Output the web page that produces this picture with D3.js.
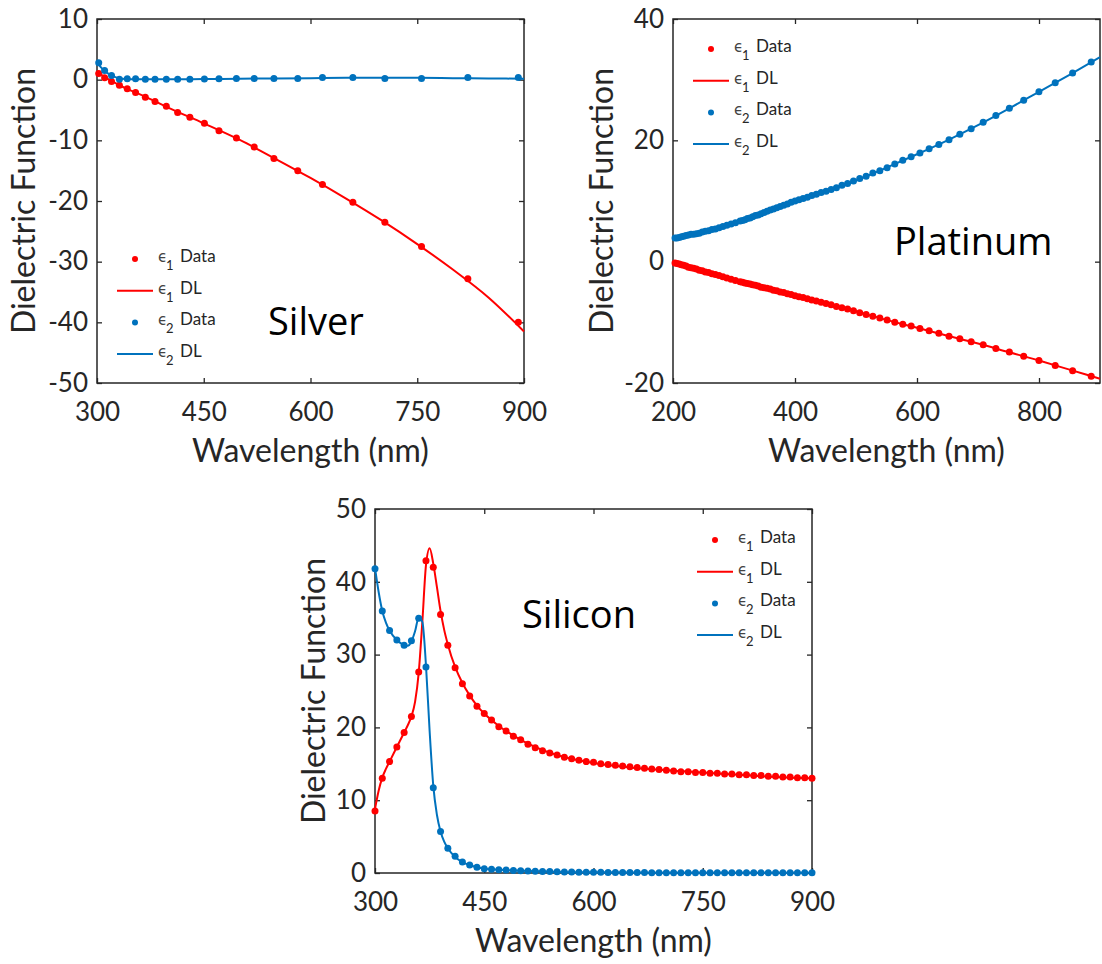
<!DOCTYPE html>
<html>
<head>
<meta charset="utf-8">
<script src="https://cdn.jsdelivr.net/npm/d3@7"></script>
<style>
  body { margin: 0; background: #fff; }
  svg { display: block; }
</style>
</head>
<body>
<svg id="chart"></svg>
<script>
// ---------- Silver ----------
let agWl = [302.4, 310.7, 320.4, 331.5, 342.5, 354.2, 367.9, 381.5, 397.4, 413.3, 430.5, 450.9, 471.4, 495.9, 520.9, 548.6, 582.1, 616.8, 659.5, 704.5, 756.0, 821.1, 892.0]
let agE1 = [1.0, 0.3, -0.3, -0.9, -1.5, -2.1, -2.9, -3.6, -4.4, -5.4, -6.2, -7.2, -8.4, -9.6, -11.1, -13.0, -15.0, -17.3, -20.2, -23.5, -27.5, -32.8, -40.0]
let agE2 = [2.8, 1.5, 0.7, 0.05, 0.15, 0.15, 0.05, 0.05, 0.05, 0.05, 0.05, 0.1, 0.15, 0.2, 0.2, 0.2, 0.2, 0.35, 0.35, 0.2, 0.2, 0.35, 0.35]
let agFitWl = [300, 305, 310, 320, 330, 340, 350, 375, 400, 450, 500, 550, 600, 650, 700, 750, 800, 850, 900]
let agFitE1 = [1.3, 0.9, 0.5, -0.2, -0.8, -1.4, -1.9, -3.2, -4.6, -7.2, -9.9, -13.0, -16.2, -19.6, -23.2, -27.1, -31.3, -35.9, -41.5]
let agFitE2 = [2.9, 2.1, 1.5, 0.7, 0.25, 0.1, 0.08, 0.05, 0.05, 0.1, 0.15, 0.2, 0.25, 0.3, 0.3, 0.3, 0.25, 0.2, 0.15]
let agXTicks = [300, 450, 600, 750, 900]
let agYTicks = [-50, -40, -30, -20, -10, 0, 10]

// ---------- Platinum ----------
let ptWl = [203.3, 206.6, 210.1, 213.8, 217.5, 221.4, 225.4, 229.6, 233.9, 238.4, 243.1, 248.0,
  253.0, 258.3, 263.8, 269.5, 275.5, 281.8, 288.3, 295.2, 302.4,
  310.0, 313.9, 317.9, 322.0, 326.3, 330.6, 335.1, 339.7, 344.4, 349.3,
  354.2, 359.4, 364.7, 370.1, 375.7, 381.5, 387.5, 393.6, 400.0,
  406.5, 413.3, 420.3, 427.5, 435.0, 442.8, 450.9,
  459.2, 467.9, 476.9, 486.2, 495.9, 506.1,
  516.6, 527.6, 539.1, 551.0,
  563.6, 576.7, 590.4, 604.8, 619.9,
  635.8, 652.5, 670.2, 688.8, 708.5,
  729.3, 751.4, 774.9, 799.9, 826.6, 855.1, 885.6]
let ptE1 = [-0.2, -0.3, -0.4, -0.5, -0.6, -0.7, -0.9, -1.0, -1.1, -1.2, -1.4, -1.5,
  -1.7, -1.8, -2.0, -2.1, -2.3, -2.5, -2.7, -2.9, -3.1,
  -3.3, -3.4, -3.5, -3.6, -3.7, -3.8, -3.9, -4.0, -4.2, -4.3,
  -4.4, -4.5, -4.7, -4.8, -5.0, -5.1, -5.3, -5.4, -5.6,
  -5.8, -5.9, -6.1, -6.3, -6.5, -6.7, -6.9,
  -7.1, -7.4, -7.6, -7.8, -8.1, -8.4,
  -8.7, -9.0, -9.3, -9.6,
  -10.0, -10.3, -10.6, -11.0, -11.4,
  -11.8, -12.3, -12.7, -13.2, -13.7,
  -14.3, -14.9, -15.6, -16.3, -17.1, -18.0, -18.9]
let ptE2 = [3.9, 3.9, 4.0, 4.1, 4.2, 4.3, 4.4, 4.5, 4.5, 4.6, 4.7, 4.9,
  5.0, 5.1, 5.3, 5.4, 5.6, 5.8, 6.0, 6.2, 6.4,
  6.7, 6.8, 6.9, 7.1, 7.2, 7.4, 7.6, 7.7, 7.9, 8.1,
  8.3, 8.5, 8.7, 8.9, 9.1, 9.3, 9.5, 9.8, 10.0,
  10.2, 10.4, 10.6, 10.9, 11.1, 11.4, 11.6,
  11.9, 12.2, 12.6, 12.9, 13.3, 13.7,
  14.1, 14.6, 15.0, 15.5,
  16.1, 16.7, 17.3, 17.9, 18.6,
  19.3, 20.1, 21.0, 21.9, 23.0,
  24.1, 25.3, 26.6, 28.0, 29.5, 31.1, 32.9]
let ptFitWl = [200, 250, 300, 350, 400, 450, 500, 550, 600, 650, 700, 750, 800, 850, 900]
let ptFitE1 = [-0.1, -1.6, -3.0, -4.3, -5.6, -6.9, -8.2, -9.6, -10.9, -12.2, -13.5, -14.9, -16.3, -17.8, -19.3]
let ptFitE2 = [3.8, 4.9, 6.3, 8.1, 10.0, 11.6, 13.4, 15.5, 17.7, 20.0, 22.5, 25.2, 28.0, 30.8, 33.7]
let ptXTicks = [200, 400, 600, 800]
let ptYTicks = [-20, 0, 20, 40]

// ---------- Silicon ----------
let siWl = [300, 310, 320, 330, 340, 350, 360, 370, 380, 390, 400, 410, 420, 430, 440, 450, 460, 470, 480, 490,
  500, 510, 520, 530, 540, 550, 560, 570, 580, 590, 600, 610, 620, 630, 640, 650, 660, 670, 680, 690,
  700, 710, 720, 730, 740, 750, 760, 770, 780, 790, 800, 810, 820, 830, 840, 850, 860, 870, 880, 890, 900]
let siE1 = [8.5, 13.0, 15.3, 17.3, 19.3, 21.5, 27.6, 42.9, 42.0, 35.5, 31.3, 28.2, 26.0, 24.3, 22.9, 21.9, 21.0, 20.1, 19.5, 18.8,
  18.3, 17.7, 17.2, 16.8, 16.5, 16.2, 15.9, 15.7, 15.5, 15.3, 15.2, 15.0, 14.9, 14.8, 14.7, 14.6, 14.5, 14.4, 14.3, 14.2,
  14.1, 14.0, 13.9, 13.9, 13.8, 13.8, 13.7, 13.7, 13.6, 13.6, 13.5, 13.5, 13.4, 13.4, 13.3, 13.3, 13.2, 13.2, 13.1, 13.1, 13.0]
let siE2 = [41.8, 36.0, 33.3, 32.0, 31.3, 31.9, 35.0, 28.3, 11.7, 5.7, 3.4, 2.3, 1.5, 1.1, 0.8, 0.6, 0.5, 0.45, 0.4, 0.35,
  0.3, 0.28, 0.25, 0.22, 0.2, 0.18, 0.15, 0.13, 0.12, 0.1, 0.1, 0.09, 0.08, 0.08, 0.07, 0.07, 0.06, 0.06, 0.05, 0.05,
  0.05, 0.04, 0.04, 0.04, 0.04, 0.03, 0.03, 0.03, 0.03, 0.03, 0.03, 0.02, 0.02, 0.02, 0.02, 0.02, 0.02, 0.02, 0.02, 0.02, 0.02]
let siFitWl = [300, 305, 310, 315, 320, 330, 340, 345, 350, 355, 360, 365, 370, 375, 380, 385, 390, 395, 400, 410,
  420, 430, 440, 450, 470, 500, 550, 600, 650, 700, 750, 800, 850, 900]
let siFitE1 = [8.8, 11.3, 13.1, 14.3, 15.3, 17.3, 19.3, 20.3, 21.5, 23.5, 27.5, 34.5, 42.3, 44.6, 42.5, 39.3, 36.0, 33.4, 31.4, 28.3,
  26.1, 24.4, 23.0, 21.9, 20.2, 18.3, 16.2, 15.1, 14.5, 14.1, 13.8, 13.5, 13.2, 13.0]
let siFitE2 = [41.9, 38.6, 36.0, 34.4, 33.3, 32.0, 31.3, 31.2, 31.8, 33.2, 35.1, 34.5, 28.5, 19.5, 12.0, 8.0, 5.7, 4.3, 3.4, 2.2,
  1.5, 1.1, 0.8, 0.6, 0.45, 0.3, 0.15, 0.1, 0.06, 0.04, 0.03, 0.02, 0.02, 0.02]
let siXTicks = [300, 450, 600, 750, 900]
let siYTicks = [0, 10, 20, 30, 40, 50]

let legendRows = [
  {sub: "1", text: "Data", kind: "dot", color: "red"},
  {sub: "1", text: "DL", kind: "line", color: "red"},
  {sub: "2", text: "Data", kind: "dot", color: "blue"},
  {sub: "2", text: "DL", kind: "line", color: "blue"}
]

let width = 1102
let height = 964
let colors = {red: "#ff0000", blue: "#0072bd"}
let ink = "#262626"
let tickFont = "Lato, 'Open Sans', sans-serif"

let svg = d3.select("#chart")
svg.attr("width", width)
svg.attr("height", height)

let panels = [
  {box: [97, 19, 524, 383], xDom: [300, 900], yDom: [-50, 10], xTicks: agXTicks, yTicks: agYTicks,
   wl: agWl, e1: agE1, e2: agE2, fitWl: agFitWl, fit1: agFitE1, fit2: agFitE2,
   yLab: 62, name: "Silver", nameX: 268, nameY: 335, legX: 135, legY: 259},
  {box: [673, 19, 1100, 383], xDom: [200, 900], yDom: [-20, 40], xTicks: ptXTicks, yTicks: ptYTicks,
   wl: ptWl, e1: ptE1, e2: ptE2, fitWl: ptFitWl, fit1: ptFitE1, fit2: ptFitE2,
   yLab: 60, name: "Platinum", nameX: 894, nameY: 255, legX: 711, legY: 49},
  {box: [375, 509, 812, 873], xDom: [300, 900], yDom: [0, 50], xTicks: siXTicks, yTicks: siYTicks,
   wl: siWl, e1: siE1, e2: siE2, fitWl: siFitWl, fit1: siFitE1, fit2: siFitE2,
   yLab: 50, name: "Silicon", nameX: 522, nameY: 628, legX: 715, legY: 540}
]

// plain hyphen for negatives, like MATLAB
let fmt = d => String(d)

let styleAxis = (g) => {
  g.select(".domain").remove()
  g.attr("font-size", 26).attr("font-family", tickFont).attr("color", ink)
  g.selectAll(".tick line").attr("stroke-width", 1.3)
}

let drawPanel = (p) => {
  let [x0, y0, x1, y1] = p.box
  let xScale = d3.scaleLinear().domain(p.xDom).range([x0, x1])
  let yScale = d3.scaleLinear().domain(p.yDom).range([y1, y0])
  let g = svg.append("g")

  // ticks point inward on all four sides
  g.append("g").attr("transform", "translate(0," + y1 + ")")
   .call(d3.axisBottom(xScale).tickValues(p.xTicks).tickSizeInner(-5).tickSizeOuter(0).tickPadding(20).tickFormat(fmt))
   .call(styleAxis)
  g.append("g").attr("transform", "translate(0," + y0 + ")")
   .call(d3.axisTop(xScale).tickValues(p.xTicks).tickSizeInner(-5).tickSizeOuter(0).tickFormat(() => ""))
   .call(styleAxis)
  g.append("g").attr("transform", "translate(" + x0 + ",0)")
   .call(d3.axisLeft(yScale).tickValues(p.yTicks).tickSizeInner(-5).tickSizeOuter(0).tickPadding(9).tickFormat(fmt))
   .call(styleAxis)
  g.append("g").attr("transform", "translate(" + x1 + ",0)")
   .call(d3.axisRight(yScale).tickValues(p.yTicks).tickSizeInner(-5).tickSizeOuter(0).tickFormat(() => ""))
   .call(styleAxis)

  g.append("rect")
   .attr("x", x0).attr("y", y0).attr("width", x1 - x0).attr("height", y1 - y0)
   .attr("fill", "none").attr("stroke", ink).attr("stroke-width", 1.5)

  // axis titles
  g.append("text")
   .attr("x", (x0 + x1) / 2).attr("y", y1 + 79)
   .attr("text-anchor", "middle")
   .attr("font-family", tickFont).attr("font-size", 32).attr("fill", ink)
   .text("Wavelength (nm)")
  g.append("text")
   .attr("transform", "translate(" + (x0 - p.yLab) + "," + ((y0 + y1) / 2) + ") rotate(-90)")
   .attr("text-anchor", "middle")
   .attr("font-family", tickFont).attr("font-size", 32).attr("fill", ink)
   .text("Dielectric Function")

  let line = d3.line()
    .x(d => xScale(d[0]))
    .y(d => yScale(d[1]))
    .curve(d3.curveMonotoneX)

  let drawDots = (vals, color) => {
    g.append("g").selectAll("circle")
     .data(d3.zip(p.wl, vals))
     .enter()
     .append("circle")
     .attr("cx", d => xScale(d[0]))
     .attr("cy", d => yScale(d[1]))
     .attr("r", 3.5)
     .attr("fill", color)
  }
  let drawLine = (vals, color) => {
    g.append("path")
     .datum(d3.zip(p.fitWl, vals))
     .attr("d", line)
     .attr("fill", "none")
     .attr("stroke", color)
     .attr("stroke-width", 2)
  }

  drawDots(p.e1, colors.red)
  drawLine(p.fit1, colors.red)
  drawDots(p.e2, colors.blue)
  drawLine(p.fit2, colors.blue)

  // material name
  g.append("text")
   .attr("x", p.nameX).attr("y", p.nameY)
   .attr("font-family", "'Open Sans', sans-serif").attr("font-size", 38).attr("fill", "#000")
   .text(p.name)

  // legend
  let leg = g.append("g")
  legendRows.forEach((r, i) => {
    let cy = p.legY + i * 31.7
    if (r.kind == "dot") {
      leg.append("circle").attr("cx", p.legX).attr("cy", cy).attr("r", 3).attr("fill", colors[r.color])
    } else {
      leg.append("line").attr("x1", p.legX - 18).attr("x2", p.legX + 18).attr("y1", cy).attr("y2", cy)
         .attr("stroke", colors[r.color]).attr("stroke-width", 2)
    }
    leg.append("text").attr("x", p.legX + 23).attr("y", cy + 3)
       .attr("font-family", "'DejaVu Sans', sans-serif").attr("font-size", 15).attr("fill", "#444")
       .text("\u03f5")
    leg.append("text").attr("x", p.legX + 31).attr("y", cy + 11)
       .attr("font-family", tickFont).attr("font-size", 13).attr("fill", ink)
       .text(r.sub)
    leg.append("text").attr("x", p.legX + 45).attr("y", cy + 3)
       .attr("font-family", tickFont).attr("font-size", 17).attr("fill", ink)
       .text(r.text)
  })
}

panels.forEach(drawPanel)
</script>
</body>
</html>
